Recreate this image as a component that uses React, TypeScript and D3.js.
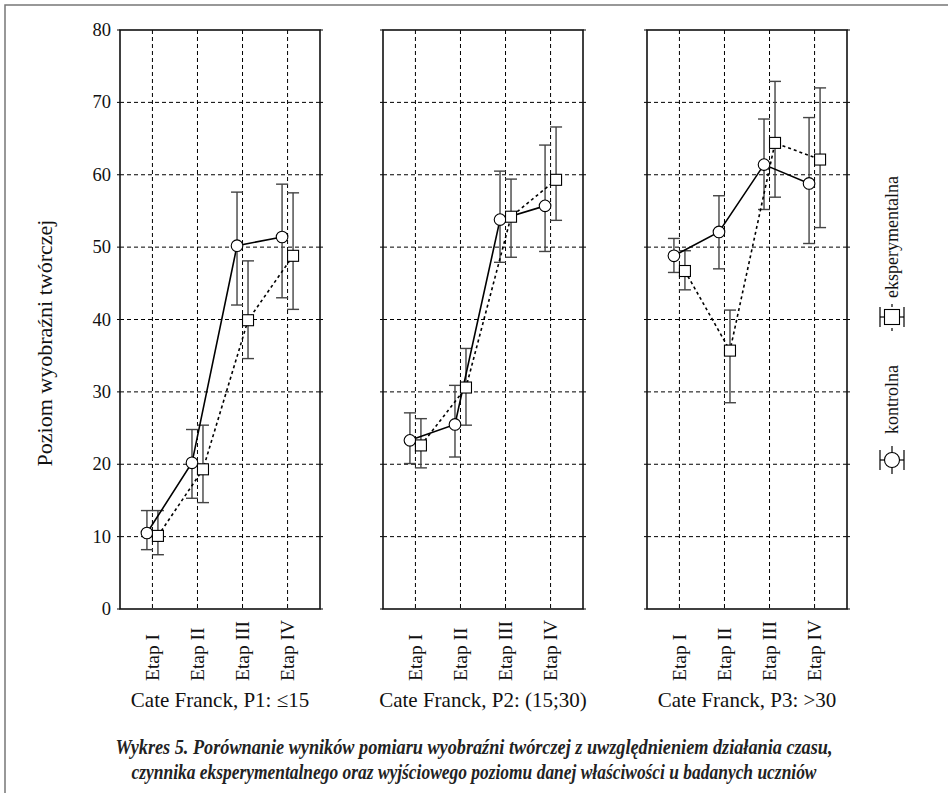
import React from "react";
import * as d3 from "d3";

const etaps = ["Etap I", "Etap II", "Etap III", "Etap IV"];
const groups = ["Cate Franck, P1: ≤15", "Cate Franck, P2: (15;30)", "Cate Franck, P3: >30"];
const yTicks = [0, 10, 20, 30, 40, 50, 60, 70, 80];

// kontrolna (solid line, circles)
const kontrolnaMean = [
  [10.5, 20.2, 50.2, 51.4],
  [23.3, 25.5, 53.8, 55.7],
  [48.8, 52.1, 61.4, 58.8],
];
const kontrolnaHigh = [
  [13.6, 24.8, 57.6, 58.7],
  [27.1, 30.9, 60.5, 64.1],
  [51.2, 57.1, 67.7, 67.9],
];
const kontrolnaLow = [
  [8.2, 15.3, 42.0, 43.0],
  [20.1, 21.0, 47.9, 49.4],
  [46.5, 47.0, 55.2, 50.5],
];

// eksperymentalna (dashed line, squares)
const eksperMean = [
  [10.1, 19.3, 39.9, 48.8],
  [22.6, 30.6, 54.2, 59.3],
  [46.7, 35.7, 64.4, 62.1],
];
const eksperHigh = [
  [13.6, 25.4, 48.1, 57.5],
  [26.3, 36.0, 59.4, 66.6],
  [49.5, 41.3, 72.9, 72.0],
];
const eksperLow = [
  [7.5, 14.7, 34.6, 41.4],
  [19.5, 25.4, 48.6, 53.7],
  [44.1, 28.5, 56.9, 52.7],
];

const W = 948;
const H = 793;
const top = 30;
const bottom = 609;
const panelLefts = [120, 383, 647];
const panelW = 200;
const off = 5.5;
const font = "'Liberation Serif', 'DejaVu Serif', serif";

const y = d3.scaleLinear().domain([0, 80]).range([bottom, top]);

const Panel = ({ gi }: { gi: number }) => {
  const left = panelLefts[gi];
  const x = d3.scalePoint<string>().domain(etaps).range([left, left + panelW]).padding(0.72);
  const series = [
    { mean: kontrolnaMean[gi], hi: kontrolnaHigh[gi], lo: kontrolnaLow[gi], dx: -off, dash: undefined, shape: "circle" },
    { mean: eksperMean[gi], hi: eksperHigh[gi], lo: eksperLow[gi], dx: off, dash: "3,3", shape: "square" },
  ];
  const line = (s: any) =>
    d3
      .line<number>()
      .x((_, i) => (x(etaps[i]) as number) + s.dx)
      .y((d) => y(d))(s.mean) as string;

  return (
    <g>
      {/* grid */}
      {yTicks.slice(1, -1).map((t) => (
        <line key={"h" + t} x1={left} x2={left + panelW} y1={y(t)} y2={y(t)} stroke="#000" strokeWidth={1} strokeDasharray="4,3" />
      ))}
      {etaps.map((e) => (
        <line key={"v" + e} x1={x(e)} x2={x(e)} y1={top} y2={bottom} stroke="#000" strokeWidth={1} strokeDasharray="4,3" />
      ))}
      {/* small ticks */}
      {yTicks.map((t) => (
        <g key={"t" + t}>
          <line x1={left - 3} x2={left} y1={y(t)} y2={y(t)} stroke="#000" strokeWidth={1} />
          <line x1={left + panelW} x2={left + panelW + 3} y1={y(t)} y2={y(t)} stroke="#000" strokeWidth={1} />
        </g>
      ))}
      <rect x={left} y={top} width={panelW} height={bottom - top} fill="none" stroke="#111" strokeWidth={1.6} />
      {/* error bars */}
      {series.map((s, si) =>
        s.mean.map((_, i) => {
          const cx = (x(etaps[i]) as number) + s.dx;
          return (
            <g key={"e" + si + i} stroke="#444" strokeWidth={1.4}>
              <line x1={cx} x2={cx} y1={y(s.hi[i])} y2={y(s.lo[i])} />
              <line x1={cx - 6} x2={cx + 6} y1={y(s.hi[i])} y2={y(s.hi[i])} />
              <line x1={cx - 6} x2={cx + 6} y1={y(s.lo[i])} y2={y(s.lo[i])} />
            </g>
          );
        })
      )}
      {series.map((s, si) => (
        <path key={"l" + si} d={line(s)} fill="none" stroke="#000" strokeWidth={1.6} strokeDasharray={s.dash} />
      ))}
      {series.map((s, si) =>
        s.mean.map((v, i) => {
          const cx = (x(etaps[i]) as number) + s.dx;
          return s.shape === "circle" ? (
            <circle key={"m" + si + i} cx={cx} cy={y(v)} r={5.8} fill="#fff" stroke="#000" strokeWidth={1.1} />
          ) : (
            <rect key={"m" + si + i} x={cx - 5.5} y={y(v) - 5.5} width={11} height={11} fill="#fff" stroke="#000" strokeWidth={1.1} />
          );
        })
      )}
      {/* x labels */}
      {etaps.map((e) => (
        <text key={"xl" + e} transform={`translate(${(x(e) as number) + 6.5},681) rotate(-90)`} fontSize={19.5} fontFamily={font} fill="#111">
          {e}
        </text>
      ))}
      <text x={left + panelW / 2} y={707} textAnchor="middle" fontSize={21} fontFamily={font} fill="#111">
        {groups[gi]}
      </text>
    </g>
  );
};

const LegendSymbol = ({ shape, dash }: { shape: string; dash?: string }) => (
  <g>
    <line x1={-14} x2={14} y1={0} y2={0} stroke="#000" strokeWidth={1.2} strokeDasharray={dash} />
    <line x1={0} x2={0} y1={-12} y2={12} stroke="#000" strokeWidth={1.2} />
    <line x1={-10} x2={10} y1={-12} y2={-12} stroke="#000" strokeWidth={1.2} />
    <line x1={-10} x2={10} y1={12} y2={12} stroke="#000" strokeWidth={1.2} />
    {shape === "circle" ? (
      <circle r={7.5} fill="#fff" stroke="#000" strokeWidth={1.1} />
    ) : (
      <rect x={-7.5} y={-7.5} width={15} height={15} fill="#fff" stroke="#000" strokeWidth={1.1} />
    )}
  </g>
);

export default function App() {
  return (
    <svg width={W} height={H} style={{ display: "block", position: "absolute", left: 0, top: 0 }}>
      <rect x={0} y={0} width={W} height={H} fill="#fff" />
      <rect x={5} y={5} width={W + 10} height={H + 10} fill="none" stroke="#777" strokeWidth={1.5} />
      {/* y axis labels */}
      {yTicks.map((t) => (
        <text key={t} x={111} y={y(t) + 6} textAnchor="end" fontSize={18.5} fontFamily={font} fill="#111">
          {t}
        </text>
      ))}
      <text transform={`translate(52,343) rotate(-90)`} textAnchor="middle" fontSize={22} fontFamily={font} fill="#111">
        Poziom wyobraźni twórczej
      </text>
      {groups.map((g, gi) => (
        <Panel key={g} gi={gi} />
      ))}
      {/* legend */}
      <g transform="translate(892,470) rotate(-90)">
        <g transform="translate(10,0)">
          <LegendSymbol shape="circle" />
        </g>
        <text x={36} y={6} fontSize={18} fontFamily={font} fill="#111">
          kontrolna
        </text>
        <g transform="translate(153,0)">
          <LegendSymbol shape="square" dash="3,3" />
        </g>
        <text x={172} y={6} fontSize={18} fontFamily={font} fill="#111">
          eksperymentalna
        </text>
      </g>
      {/* caption */}
      <text x={474} y={754} textAnchor="middle" fontSize={20} fontWeight="bold" fontStyle="italic" fontFamily={font} fill="#222" textLength={717} lengthAdjust="spacingAndGlyphs">
        Wykres 5.  Porównanie wyników pomiaru wyobraźni twórczej z uwzględnieniem działania czasu,
      </text>
      <text x={474} y={779} textAnchor="middle" fontSize={20} fontWeight="bold" fontStyle="italic" fontFamily={font} fill="#222" textLength={685} lengthAdjust="spacingAndGlyphs">
        czynnika eksperymentalnego oraz wyjściowego poziomu danej właściwości u badanych uczniów
      </text>
    </svg>
  );
}
